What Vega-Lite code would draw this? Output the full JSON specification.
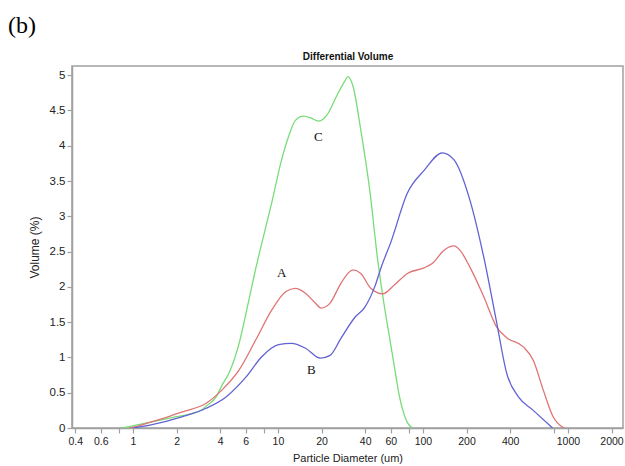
{
  "$schema": "https://vega.github.io/schema/vega-lite/v6.json",
  "width": 551,
  "height": 362,
  "autosize": "none",
  "padding": {"left": 72, "top": 66, "right": 2, "bottom": 38},
  "background": "white",
  "title": {"text": "(b)", "anchor": "start", "frame": "group", "dx": -64, "offset": 13, "font": "Liberation Serif", "fontSize": 24, "fontWeight": "normal", "color": "black"},
  "config": {
    "view": {"stroke": "#a0a0a0", "strokeWidth": 1.5},
    "axis": {"grid": false, "labelFont": "Liberation Sans", "titleFont": "Liberation Sans", "labelColor": "#222", "titleColor": "#222", "labelFontSize": 11, "titleFontSize": 11, "titleFontWeight": "normal", "domainColor": "#a0a0a0", "domainWidth": 1.5, "tickColor": "#a0a0a0", "tickWidth": 1.2, "tickSize": 5}
  },
  "datasets": {
    "curves": [
      {"s": "C", "d": 0.84, "v": 0}, {"s": "C", "d": 1.0, "v": 0.03}, {"s": "C", "d": 1.3, "v": 0.08}, {"s": "C", "d": 2.0, "v": 0.16}, {"s": "C", "d": 2.5, "v": 0.2}, {"s": "C", "d": 3.0, "v": 0.26}, {"s": "C", "d": 3.2, "v": 0.31}, {"s": "C", "d": 3.75, "v": 0.44}, {"s": "C", "d": 4.1, "v": 0.6}, {"s": "C", "d": 4.6, "v": 0.78}, {"s": "C", "d": 5.4, "v": 1.2}, {"s": "C", "d": 6.3, "v": 1.81}, {"s": "C", "d": 7.0, "v": 2.24}, {"s": "C", "d": 7.7, "v": 2.6}, {"s": "C", "d": 9.06, "v": 3.19}, {"s": "C", "d": 10.6, "v": 3.8}, {"s": "C", "d": 11.8, "v": 4.12}, {"s": "C", "d": 13.2, "v": 4.36}, {"s": "C", "d": 15.0, "v": 4.42}, {"s": "C", "d": 17.0, "v": 4.39}, {"s": "C", "d": 19.0, "v": 4.35}, {"s": "C", "d": 22.2, "v": 4.46}, {"s": "C", "d": 25.2, "v": 4.69}, {"s": "C", "d": 29.0, "v": 4.92}, {"s": "C", "d": 30.4, "v": 4.98}, {"s": "C", "d": 32.9, "v": 4.85}, {"s": "C", "d": 37.3, "v": 4.22}, {"s": "C", "d": 43, "v": 3.37}, {"s": "C", "d": 48.8, "v": 2.38}, {"s": "C", "d": 54, "v": 1.75}, {"s": "C", "d": 59.8, "v": 1.2}, {"s": "C", "d": 65, "v": 0.75}, {"s": "C", "d": 69, "v": 0.44}, {"s": "C", "d": 74, "v": 0.2}, {"s": "C", "d": 78, "v": 0.08}, {"s": "C", "d": 85, "v": 0},
      {"s": "A", "d": 0.95, "v": 0}, {"s": "A", "d": 1.1, "v": 0.03}, {"s": "A", "d": 1.31, "v": 0.08}, {"s": "A", "d": 1.7, "v": 0.15}, {"s": "A", "d": 2.2, "v": 0.23}, {"s": "A", "d": 3.2, "v": 0.35}, {"s": "A", "d": 4.12, "v": 0.54}, {"s": "A", "d": 5.39, "v": 0.82}, {"s": "A", "d": 7.04, "v": 1.25}, {"s": "A", "d": 9.06, "v": 1.67}, {"s": "A", "d": 11.3, "v": 1.93}, {"s": "A", "d": 13.2, "v": 1.98}, {"s": "A", "d": 15.5, "v": 1.91}, {"s": "A", "d": 18.1, "v": 1.77}, {"s": "A", "d": 19.9, "v": 1.7}, {"s": "A", "d": 22.9, "v": 1.77}, {"s": "A", "d": 27.2, "v": 2.05}, {"s": "A", "d": 32.9, "v": 2.24}, {"s": "A", "d": 37.3, "v": 2.19}, {"s": "A", "d": 43.7, "v": 1.98}, {"s": "A", "d": 52.8, "v": 1.9}, {"s": "A", "d": 63.8, "v": 2.03}, {"s": "A", "d": 78.2, "v": 2.19}, {"s": "A", "d": 102, "v": 2.27}, {"s": "A", "d": 116, "v": 2.33}, {"s": "A", "d": 140, "v": 2.52}, {"s": "A", "d": 164, "v": 2.58}, {"s": "A", "d": 180, "v": 2.52}, {"s": "A", "d": 211, "v": 2.28}, {"s": "A", "d": 263, "v": 1.86}, {"s": "A", "d": 323, "v": 1.43}, {"s": "A", "d": 378, "v": 1.28}, {"s": "A", "d": 493, "v": 1.15}, {"s": "A", "d": 577, "v": 0.96}, {"s": "A", "d": 676, "v": 0.54}, {"s": "A", "d": 791, "v": 0.16}, {"s": "A", "d": 940, "v": 0},
      {"s": "B", "d": 1.0, "v": 0}, {"s": "B", "d": 1.31, "v": 0.04}, {"s": "B", "d": 2.2, "v": 0.16}, {"s": "B", "d": 3.2, "v": 0.28}, {"s": "B", "d": 4.39, "v": 0.44}, {"s": "B", "d": 6.01, "v": 0.72}, {"s": "B", "d": 7.74, "v": 1.01}, {"s": "B", "d": 10.1, "v": 1.18}, {"s": "B", "d": 12.4, "v": 1.2}, {"s": "B", "d": 15.5, "v": 1.13}, {"s": "B", "d": 19.6, "v": 0.99}, {"s": "B", "d": 22.9, "v": 1.03}, {"s": "B", "d": 27.2, "v": 1.27}, {"s": "B", "d": 34.0, "v": 1.57}, {"s": "B", "d": 39.7, "v": 1.71}, {"s": "B", "d": 46.5, "v": 2.0}, {"s": "B", "d": 52, "v": 2.3}, {"s": "B", "d": 59.8, "v": 2.62}, {"s": "B", "d": 78.2, "v": 3.33}, {"s": "B", "d": 102, "v": 3.65}, {"s": "B", "d": 136, "v": 3.9}, {"s": "B", "d": 164, "v": 3.8}, {"s": "B", "d": 211, "v": 3.23}, {"s": "B", "d": 263, "v": 2.42}, {"s": "B", "d": 323, "v": 1.49}, {"s": "B", "d": 378, "v": 0.78}, {"s": "B", "d": 456, "v": 0.44}, {"s": "B", "d": 577, "v": 0.25}, {"s": "B", "d": 785, "v": 0}
    ],
    "labels": [
      {"s": "A", "d": 10.6, "v": 2.2},
      {"s": "B", "d": 17.0, "v": 0.82},
      {"s": "C", "d": 19.0, "v": 4.12}
    ]
  },
  "layer": [
    {
      "data": {"name": "curves"},
      "mark": {"type": "line", "interpolate": "monotone", "strokeWidth": 1.3, "clip": true},
      "encoding": {
        "x": {"field": "d", "type": "quantitative", "scale": {"type": "log", "domain": [0.38, 2400], "nice": false},
              "axis": {"orient": "bottom", "title": "Particle Diameter (um)", "titlePadding": 6, "labelPadding": 3, "labelFontSize": 10.5,
                       "values": [0.4, 0.6, 0.8, 1, 2, 4, 6, 8, 10, 20, 40, 60, 80, 100, 200, 400, 800, 1000, 2000],
                       "labelExpr": "(datum.value == 0.8 || datum.value == 8 || datum.value == 80 || datum.value == 800) ? '' : toString(datum.value)",
                       "labelFlush": false, "labelOverlap": false, "labelBound": false}},
        "y": {"field": "v", "type": "quantitative", "scale": {"domain": [0, 5.13], "nice": false, "zero": true},
              "axis": {"title": "Volume (%)", "values": [0, 0.5, 1, 1.5, 2, 2.5, 3, 3.5, 4, 4.5, 5], "format": "~g", "labelPadding": 2, "labelFontSize": 11.5, "titleFontSize": 12, "titlePadding": 8, "labelOverlap": false}},
        "color": {"field": "s", "type": "nominal", "scale": {"domain": ["A", "B", "C"], "range": ["#e07474", "#6262d4", "#78dc78"]}, "legend": null},
        "order": {"field": "d", "type": "quantitative"}
      }
    },
    {
      "data": {"name": "labels"},
      "mark": {"type": "text", "font": "Liberation Serif", "fontSize": 13, "color": "#111", "baseline": "middle", "align": "center"},
      "encoding": {
        "x": {"field": "d", "type": "quantitative", "axis": {"orient": "top", "title": "Differential Volume", "labels": false, "ticks": false, "domain": false, "titlePadding": 5, "titleFontSize": 10, "titleFontWeight": "bold", "titleColor": "#111"}},
        "y": {"field": "v", "type": "quantitative", "scale": {"domain": [0, 5.13], "nice": false, "zero": true},
              "axis": {"title": "Volume (%)", "values": [0, 0.5, 1, 1.5, 2, 2.5, 3, 3.5, 4, 4.5, 5], "format": "~g", "labelPadding": 2, "labelFontSize": 11.5, "titleFontSize": 12, "titlePadding": 8, "labelOverlap": false}},
        "text": {"field": "s"}
      }
    }
  ],
  "resolve": {"axis": {"x": "independent"}}
}
